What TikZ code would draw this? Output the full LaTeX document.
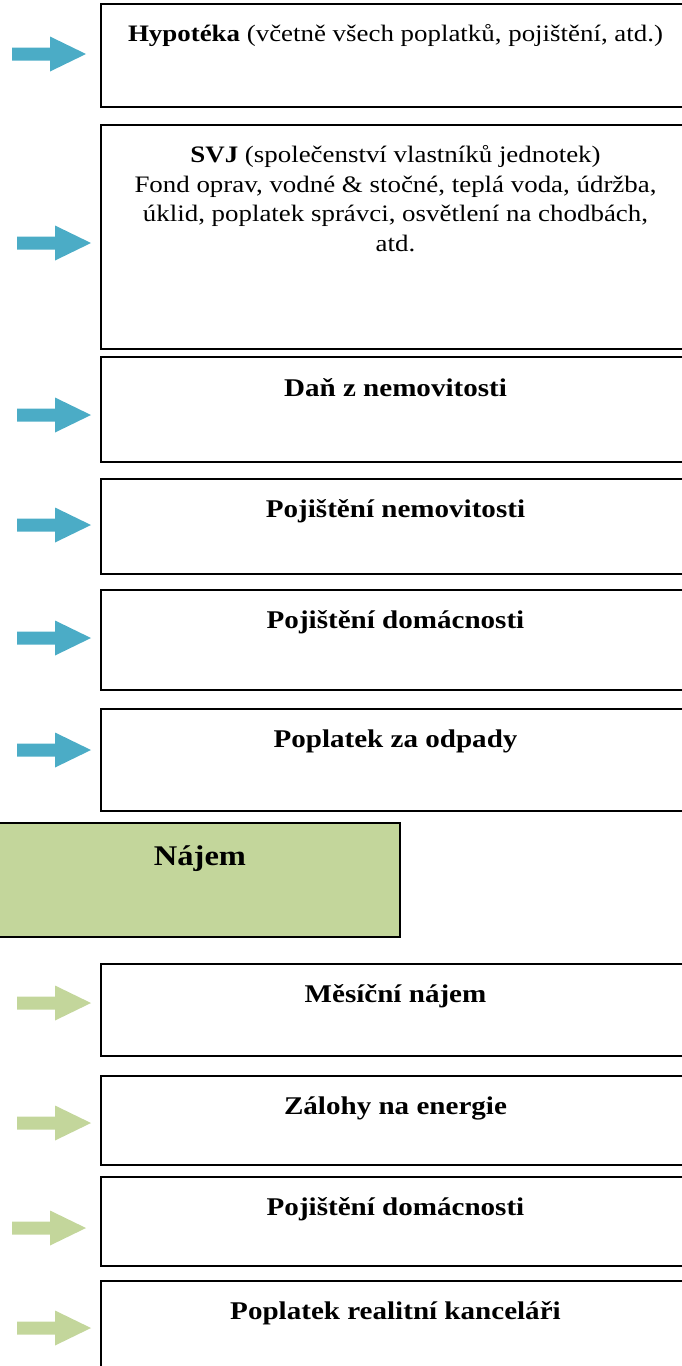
\documentclass[tikz,border=0pt]{standalone}
\usepackage{fontspec}
\setmainfont{Liberation Serif}[FakeStretch=1.14]
\definecolor{arrblue}{HTML}{4BACC6}
\definecolor{arrgreen}{HTML}{C3D69B}
\tikzset{
  boxst/.style={draw=black, line width=1.8pt, fill=white, inner sep=0pt, outer sep=0pt, anchor=north west, minimum width=589pt},
  nboxst/.style={draw=black, line width=1.8pt, fill=arrgreen, inner sep=0pt, outer sep=0pt, anchor=north west, minimum width=403pt},
  txt/.style={anchor=base, inner sep=0pt, font=\fontsize{25.5}{30}\selectfont},
  smalltxt/.style={anchor=base, inner sep=0pt, font=\fontsize{23.6}{29.5}\selectfont},
  pics/barr/.style={code={\fill[#1] (0,6.5) -- (38,6.5) -- (38,17.5) -- (74,0) -- (38,-17.5) -- (38,-6.5) -- (0,-6.5) -- cycle;}}
}
\begin{document}
\begin{tikzpicture}[x=1pt,y=-1pt]
\useasboundingbox (0,0) rectangle (682,1366);
\clip (0,0) rectangle (682,1366);
% boxes
\node[boxst, minimum height=103pt] (b1) at (101,4) {};
\node[boxst, minimum height=224pt] (b2) at (101,125) {};
\node[boxst, minimum height=105pt] (b3) at (101,357) {};
\node[boxst, minimum height=95pt] (b4) at (101,479) {};
\node[boxst, minimum height=100pt] (b5) at (101,590) {};
\node[boxst, minimum height=102pt] (b6) at (101,709) {};
\node[nboxst, minimum height=114pt] (n) at (-3,823) {};
\node[boxst, minimum height=92pt] (b7) at (101,964) {};
\node[boxst, minimum height=89pt] (b8) at (101,1076) {};
\node[boxst, minimum height=89pt] (b9) at (101,1177) {};
\node[boxst, minimum height=100pt] (b10) at (101,1281) {};
% texts
\node[smalltxt] (t1) at (395.5,41) {\textbf{Hypotéka} (včetně všech poplatků, pojištění, atd.)};
\node[smalltxt, align=center] (t2) at (395.5,251) {\textbf{SVJ} (společenství vlastníků jednotek)\\Fond oprav, vodné \& stočné, teplá voda, údržba,\\úklid, poplatek správci, osvětlení na chodbách,\\atd.};
\node[txt] (t3) at (395.5,396) {\textbf{Daň z nemovitosti}};
\node[txt] (t4) at (395.5,517) {\textbf{Pojištění nemovitosti}};
\node[txt] (t5) at (395.5,628) {\textbf{Pojištění domácnosti}};
\node[txt] (t6) at (395.5,747) {\textbf{Poplatek za odpady}};
\node[txt, font=\fontsize{28.5}{33}\selectfont] (tn) at (200,865) {\textbf{Nájem}};
\node[txt] (t7) at (395.5,1002) {\textbf{Měsíční nájem}};
\node[txt] (t8) at (395.5,1114) {\textbf{Zálohy na energie}};
\node[txt] (t9) at (395.5,1215) {\textbf{Pojištění domácnosti}};
\node[txt] (t10) at (395.5,1319) {\textbf{Poplatek realitní kanceláři}};
% arrows
\pic (a1) at (12,54) {barr=arrblue};
\pic (a2) at (17,243) {barr=arrblue};
\pic (a3) at (17,415) {barr=arrblue};
\pic (a4) at (17,525) {barr=arrblue};
\pic (a5) at (17,638) {barr=arrblue};
\pic (a6) at (17,750) {barr=arrblue};
\pic (a7) at (17,1003) {barr=arrgreen};
\pic (a8) at (17,1123) {barr=arrgreen};
\pic (a9) at (12,1228) {barr=arrgreen};
\pic (a10) at (17,1328) {barr=arrgreen};
\end{tikzpicture}
\end{document}
